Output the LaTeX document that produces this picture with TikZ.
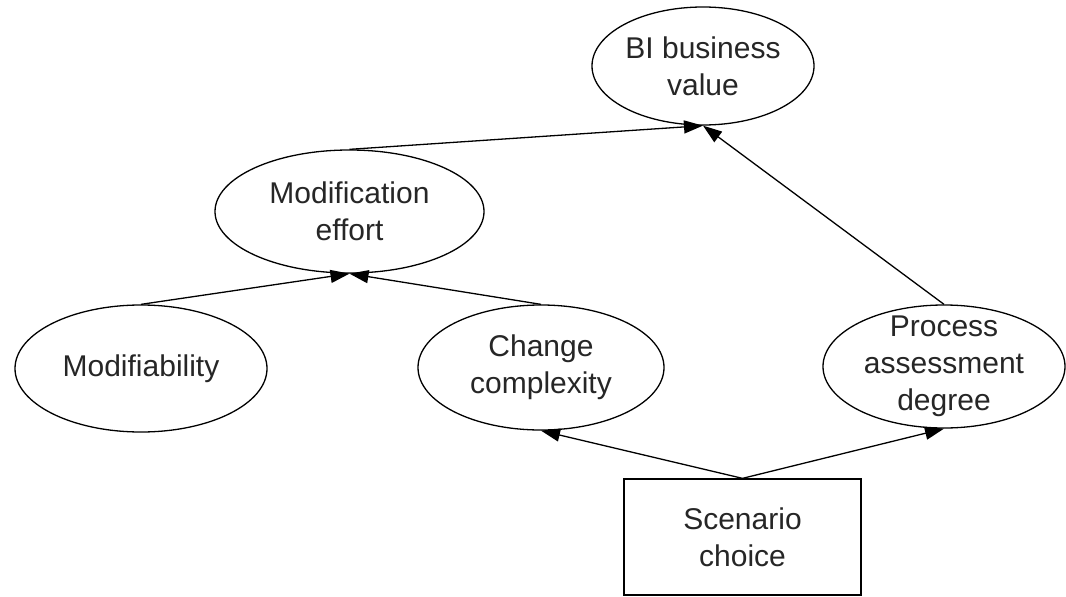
\documentclass[tikz,border=0pt]{standalone}
\usepackage{fontspec}
\setmainfont{Liberation Sans}
\usetikzlibrary{shapes.geometric,arrows.meta}

\tikzset{
  ell/.style={ellipse, draw, line width=1.3pt, inner sep=0pt},
  box/.style={rectangle, draw, line width=1.3pt, inner sep=0pt},
  txt/.style={align=center, font=\fontsize{30}{37}\selectfont, text=black!85},
  link/.style={line width=1.3pt, -{Triangle[length=19pt,width=13pt]}},
}

\begin{document}
\begin{tikzpicture}[x=1pt,y=-1pt]
  \useasboundingbox (0,0) rectangle (1066,597);

  % factors
  \node[ell, minimum width=222pt, minimum height=118pt,
        label={[txt]center:BI business\\value}] (bi) at (703,66) {};
  \node[ell, minimum width=269pt, minimum height=123pt,
        label={[txt]center:Modification\\effort}] (effort) at (349.5,211.5) {};
  \node[ell, minimum width=252pt, minimum height=127pt,
        label={[txt]center:Modifiability}] (modif) at (141,368.5) {};
  \node[ell, minimum width=246pt, minimum height=125pt,
        label={[txt]center:Change\\complexity}] (change) at (541,367.5) {};
  \node[ell, minimum width=242pt, minimum height=123pt,
        label={[txt]center:Process\\assessment\\degree}] (process) at (944,366.5) {};

  % decision
  \node[box, minimum width=237pt, minimum height=116pt,
        label={[txt]center:Scenario\\choice}] (scenario) at (742.5,537) {};

  % influences
  \draw[link] (effort.north) -- (bi.south);
  \draw[link] (process.north) -- (bi.south);
  \draw[link] (modif.north) -- (effort.south);
  \draw[link] (change.north) -- (effort.south);
  \draw[link] (scenario.north) -- (change.south);
  \draw[link] (scenario.north) -- (process.south);
\end{tikzpicture}
\end{document}
